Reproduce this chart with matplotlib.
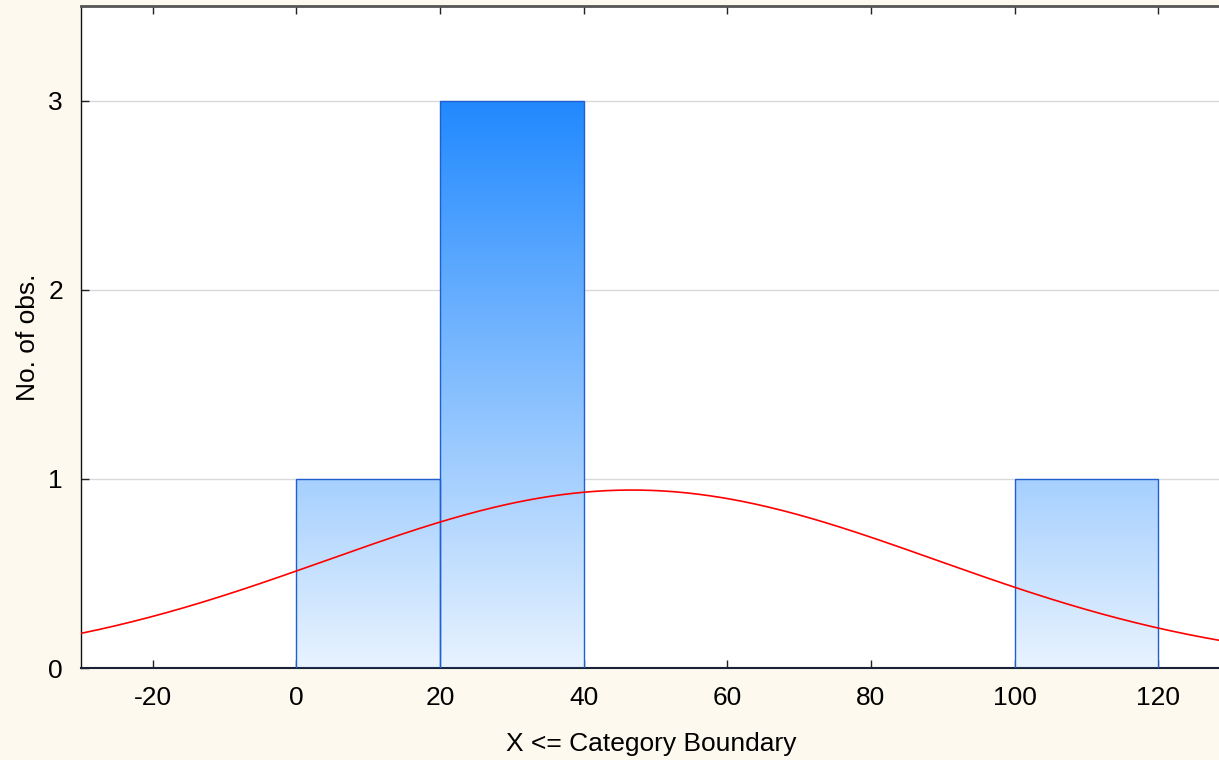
import numpy as np
import matplotlib.pyplot as plt
from matplotlib.colors import LinearSegmentedColormap

# histogram data
bin_edges = [0, 20, 40, 60, 80, 100, 120]
counts = [1, 3, 0, 0, 0, 1]
x_ticks = [-20, 0, 20, 40, 60, 80, 100, 120]
y_ticks = [0, 1, 2, 3]

# fitted normal curve parameters
fit_mean = 46.7
fit_sd = 42.4
n_obs = 5


def main():
    plt.rcParams['font.family'] = ['Liberation Sans', 'DejaVu Sans']
    plt.rcParams['axes.unicode_minus'] = False

    fig = plt.figure(figsize=(12.19, 7.6), dpi=100, facecolor='#fdf9ee')
    ax = fig.add_axes([81 / 1219, 92 / 760, 1 - 81 / 1219 + 0.002, (668 - 6) / 760])
    ax.set_facecolor('white')

    xlim = (-30, 128.8)
    ylim = (0, 3.5)

    # grid
    for y in y_ticks[1:]:
        ax.axhline(y, color='#d9d9d9', lw=1.0, zorder=0)

    # bars with vertical gradient (colour depends on absolute height)
    cmap = LinearSegmentedColormap.from_list('blu', ['#e8f3fe', '#2189ff'])
    grad = np.linspace(0, 1, 256).reshape(-1, 1)
    width = bin_edges[1] - bin_edges[0]
    bars = ax.bar(bin_edges[:-1], counts, width=width, align='edge',
                  facecolor='none', edgecolor='#1f5fd0', lw=1.0, zorder=3)
    top = max(counts)
    for b, c in zip(bars, counts):
        if c <= 0:
            b.set_visible(False)
            continue
        im = ax.imshow(grad, extent=[b.get_x(), b.get_x() + b.get_width(), 0, top],
                       origin='lower', aspect='auto', cmap=cmap, zorder=2)
        im.set_clip_path(b)

    # normal fit
    xs = np.linspace(xlim[0], xlim[1], 400)
    ys = n_obs * width / (fit_sd * np.sqrt(2 * np.pi)) * np.exp(-0.5 * ((xs - fit_mean) / fit_sd) ** 2)
    ax.plot(xs, ys, color='#ff0000', lw=1.2, zorder=4)

    ax.set_xlim(*xlim)
    ax.set_ylim(*ylim)
    ax.set_xticks(x_ticks)
    ax.set_yticks(y_ticks)
    ax.tick_params(axis='both', direction='in', labelsize=19, length=6, width=1, color='#222222')
    ax.tick_params(axis='x', top=True, pad=13)
    ax.tick_params(axis='y', pad=13)

    ax.spines['top'].set_color('#555555')
    ax.spines['top'].set_linewidth(2)
    ax.spines['bottom'].set_color('#1c2235')
    ax.spines['bottom'].set_linewidth(1.5)
    ax.spines['left'].set_color('#111111')
    ax.spines['left'].set_linewidth(1)
    ax.spines['right'].set_visible(False)

    ax.set_xlabel('X <= Category Boundary', fontsize=19, labelpad=16)
    ax.set_ylabel('No. of obs.', fontsize=19, labelpad=6)

    fig.savefig('out.png', dpi=100, facecolor=fig.get_facecolor())


if __name__ == "__main__":
    main()
